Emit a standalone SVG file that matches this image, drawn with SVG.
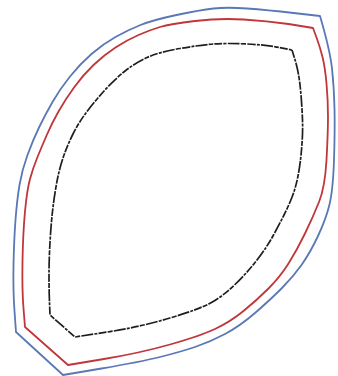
<svg xmlns="http://www.w3.org/2000/svg" width="338" height="376" viewBox="0 0 338 376">
<style>
.c{fill:none;stroke-linejoin:round;stroke-linecap:butt}
.b{stroke:#5a78b6;stroke-width:1.8}
.r{stroke:#c0363a;stroke-width:1.8}
.k{stroke:#1e1e1e;stroke-width:1.7;stroke-dasharray:8 1.2 3 1.2 12 1.2 5 1.2}
</style>
<rect width="338" height="376" fill="#fff"/>
<g id="outer">
<path class="c b" d="M320,16 Q330,50 332,68.5 Q334,87 334.5,108.5 Q335,130 334,160 Q333,190 329.5,204.5 Q326,219 318,236 Q310,253 301.5,265 Q293,277 281.5,288.5 Q270,300 255,313 Q240,326 225,334 Q210,342 195,347 Q180,352 160,357 Q140,362 101.5,368.5 L63,375 L16,332 L14.5,311 Q13,290 13.5,265 Q14,240 15.5,220 Q17,200 19.5,185 Q22,170 27.5,155 Q33,140 39,127.5 Q45,115 52.5,102 Q60,89 70,76.5 Q80,64 91.5,54 Q103,44 115.5,37 Q128,30 140.5,25 Q153,20 176.5,15 Q200,10 213.5,8.5 Q227,7 247,8.5 Q267,10 293.5,13 L320,16 Z"/>
</g>
<g id="middle">
<path class="c r" d="M313,28 L316.5,37.5 Q320,47 322.5,57 Q325,67 326.5,83.5 Q328,100 328,116.5 Q328,133 326.5,160 Q325,187 319,202 Q313,217 305,233.5 Q297,250 288.5,263.5 Q280,277 268.5,288.5 Q257,300 243.5,311 Q230,322 215,329 Q200,336 170,344.5 Q140,353 104,359 L68,365 L25,327 L23.5,308.5 Q22,290 22.5,261.5 Q23,233 25,211.5 Q27,190 30,179 Q33,168 37.5,157 Q42,146 47,134.5 Q52,123 58.5,111.5 Q65,100 74,87.5 Q83,75 93.5,65 Q104,55 115.5,47.5 Q127,40 138.5,35 Q150,30 160,27 Q170,24 195,21 Q220,18 243.5,19.5 Q267,21 288.5,24 L313,28 Z"/>
</g>
<g id="inner">
<path class="c k" d="M292,50 L294.5,58 Q297,66 298.5,74.5 Q300,83 301,95 Q302,107 302.5,120 Q303,133 301.5,150 Q300,167 297.5,178.5 Q295,190 291.5,198.5 Q288,207 284,215 Q280,223 273.5,235 Q267,247 257,260 Q247,273 235,284.5 Q223,296 211.5,302.5 Q200,309 170,318 Q140,327 107.5,332 L75,337 L50,315 L49.5,302.5 Q49,290 49,275 Q49,260 50,242.5 Q51,225 52.5,211.5 Q54,198 56.5,184 Q59,170 63,158 Q67,146 73,134 Q79,122 87,111.5 Q95,101 104.5,90.5 Q114,80 124.5,71.5 Q135,63 147,57.5 Q159,52 180,48.5 Q200,45 213.5,44 Q227,43 247,44 Q267,45 279.5,47.5 L292,50 Z"/>
</g>
</svg>
